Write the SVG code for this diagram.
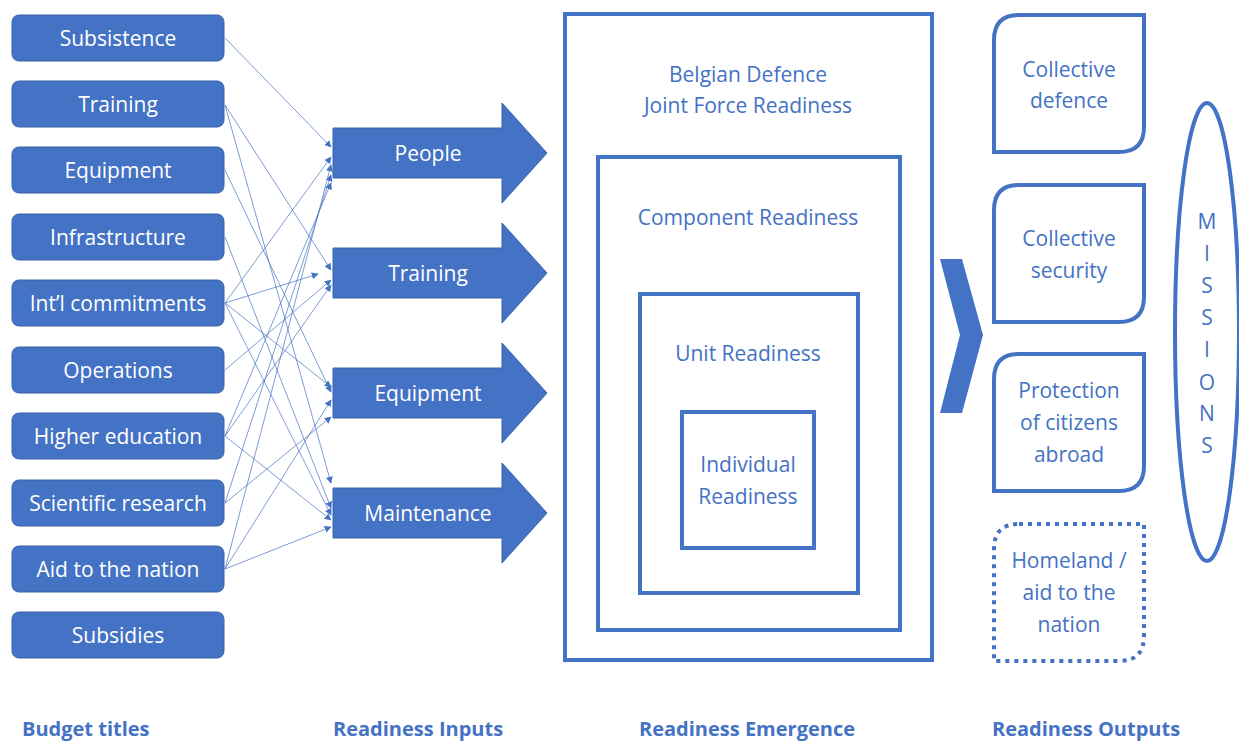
<svg xmlns="http://www.w3.org/2000/svg" width="1239" height="743" viewBox="0 0 1239 743">
  <style>
    .budget rect { fill: #4472C4; stroke: #3A62A8; stroke-width: 1; }
    .wt { fill: #FFFFFF; font-family: "Open Sans", "Liberation Sans", sans-serif; font-size: 21px; text-anchor: middle; }
    .bt { fill: #4472C4; font-family: "Open Sans", "Liberation Sans", sans-serif; font-size: 21px; text-anchor: middle; }
    .hd { fill: #4472C4; font-family: "Open Sans", "Liberation Sans", sans-serif; font-size: 20px; font-weight: bold; }
    .input use { fill: #4472C4; stroke: #3A62A8; stroke-width: 1; }
    .frame { fill: none; stroke: #4472C4; stroke-width: 4; }
    .out { fill: #FFFFFF; stroke: #4472C4; stroke-width: 4; }
    .dotted { stroke-dasharray: 4 5; }
    #connectors line { stroke: #4472C4; stroke-width: 1; stroke-opacity: 0.7; marker-end: url(#tri); }
  </style>
  <defs>
    <marker id="tri" viewBox="0 0 10 10" refX="9" refY="5" markerWidth="7" markerHeight="7" markerUnits="userSpaceOnUse" orient="auto">
      <path d="M0,0 L10,5 L0,10 z" fill="#4472C4"/>
    </marker>
    <path id="inArrow" d="M0,-25 H169 V-50 L214,0 L169,50 V25 H0 z"/>
    <path id="outBox" d="M25,0 H150 V112 Q150,137 125,137 H0 V25 Q0,0 25,0 z"/>
  </defs>

  <rect width="1239" height="743" fill="#FFFFFF"/>

  <!-- budget titles -->
  <g id="b-subsistence" class="budget"><rect x="12" y="15" width="212" height="46" rx="7"/><text class="wt" x="118" y="46">Subsistence</text></g>
  <g id="b-training" class="budget"><rect x="12" y="81" width="212" height="46" rx="7"/><text class="wt" x="118" y="112">Training</text></g>
  <g id="b-equipment" class="budget"><rect x="12" y="147" width="212" height="46" rx="7"/><text class="wt" x="118" y="178">Equipment</text></g>
  <g id="b-infrastructure" class="budget"><rect x="12" y="214" width="212" height="46" rx="7"/><text class="wt" x="118" y="245">Infrastructure</text></g>
  <g id="b-intl" class="budget"><rect x="12" y="280" width="212" height="46" rx="7"/><text class="wt" x="118" y="311">Int’l commitments</text></g>
  <g id="b-operations" class="budget"><rect x="12" y="347" width="212" height="46" rx="7"/><text class="wt" x="118" y="378">Operations</text></g>
  <g id="b-higher-ed" class="budget"><rect x="12" y="413" width="212" height="46" rx="7"/><text class="wt" x="118" y="444">Higher education</text></g>
  <g id="b-research" class="budget"><rect x="12" y="480" width="212" height="46" rx="7"/><text class="wt" x="118" y="511">Scientific research</text></g>
  <g id="b-aid" class="budget"><rect x="12" y="546" width="212" height="46" rx="7"/><text class="wt" x="118" y="577">Aid to the nation</text></g>
  <g id="b-subsidies" class="budget"><rect x="12" y="612" width="212" height="46" rx="7"/><text class="wt" x="118" y="643">Subsidies</text></g>

  <!-- readiness inputs -->
  <g id="in-people" class="input"><use href="#inArrow" x="333" y="153"/><text class="wt" x="428" y="161">People</text></g>
  <g id="in-training" class="input"><use href="#inArrow" x="333" y="273"/><text class="wt" x="428" y="281">Training</text></g>
  <g id="in-equipment" class="input"><use href="#inArrow" x="333" y="393"/><text class="wt" x="428" y="401">Equipment</text></g>
  <g id="in-maintenance" class="input"><use href="#inArrow" x="333" y="513"/><text class="wt" x="428" y="521">Maintenance</text></g>

  <!-- budget title to input links -->
  <g id="connectors">
    <line x1="225" y1="38" x2="331" y2="147"/>
    <line x1="225" y1="105" x2="331" y2="270"/>
    <line x1="225" y1="105" x2="331" y2="483"/>
    <line x1="225" y1="170" x2="331" y2="392"/>
    <line x1="225" y1="237" x2="331" y2="508"/>
    <line x1="225" y1="303" x2="331" y2="157"/>
    <line x1="225" y1="303" x2="318" y2="274"/>
    <line x1="225" y1="303" x2="331" y2="387"/>
    <line x1="225" y1="303" x2="331" y2="515"/>
    <line x1="225" y1="370" x2="331" y2="280"/>
    <line x1="225" y1="436" x2="331" y2="183"/>
    <line x1="225" y1="436" x2="331" y2="285"/>
    <line x1="225" y1="436" x2="331" y2="520"/>
    <line x1="225" y1="503" x2="331" y2="417"/>
    <line x1="225" y1="503" x2="331" y2="175"/>
    <line x1="225" y1="569" x2="331" y2="527"/>
    <line x1="225" y1="569" x2="331" y2="400"/>
    <line x1="225" y1="569" x2="331" y2="165"/>
  </g>

  <!-- nested readiness levels -->
  <g id="joint-force">
    <rect class="frame" x="565" y="14" width="367" height="646"/>
    <text class="bt" x="748" y="82">Belgian Defence</text>
    <text class="bt" x="748" y="113">Joint Force Readiness</text>
  </g>
  <g id="component">
    <rect class="frame" x="598" y="157" width="302" height="473"/>
    <text class="bt" x="748" y="225">Component Readiness</text>
  </g>
  <g id="unit">
    <rect class="frame" x="640" y="294" width="218" height="299"/>
    <text class="bt" x="748" y="361">Unit Readiness</text>
  </g>
  <g id="individual">
    <rect class="frame" x="682" y="412" width="132" height="136"/>
    <text class="bt" x="748" y="472">Individual</text>
    <text class="bt" x="748" y="504">Readiness</text>
  </g>

  <!-- chevron towards outputs -->
  <g id="chevron">
    <path d="M940,259 H962 L983,335 L962,413 H940 L960,335 z" fill="#4472C4"/>
  </g>

  <!-- readiness outputs -->
  <g id="out-defence">
    <use href="#outBox" class="out" x="994" y="15"/>
    <text class="bt" x="1069" y="77">Collective</text>
    <text class="bt" x="1069" y="108">defence</text>
  </g>
  <g id="out-security">
    <use href="#outBox" class="out" x="994" y="185"/>
    <text class="bt" x="1069" y="246">Collective</text>
    <text class="bt" x="1069" y="278">security</text>
  </g>
  <g id="out-protection">
    <use href="#outBox" class="out" x="994" y="354"/>
    <text class="bt" x="1069" y="398">Protection</text>
    <text class="bt" x="1069" y="430">of citizens</text>
    <text class="bt" x="1069" y="462">abroad</text>
  </g>
  <g id="out-homeland">
    <use href="#outBox" class="out dotted" x="994" y="524"/>
    <text class="bt" x="1069" y="568">Homeland /</text>
    <text class="bt" x="1069" y="600">aid to the</text>
    <text class="bt" x="1069" y="632">nation</text>
  </g>

  <!-- missions -->
  <g id="missions">
    <ellipse cx="1207" cy="332" rx="32" ry="229" fill="none" stroke="#4472C4" stroke-width="4"/>
    <text class="bt" x="1207" y="229">M</text>
    <text class="bt" x="1207" y="261">I</text>
    <text class="bt" x="1207" y="293">S</text>
    <text class="bt" x="1207" y="325">S</text>
    <text class="bt" x="1207" y="357">I</text>
    <text class="bt" x="1207" y="390">O</text>
    <text class="bt" x="1207" y="421">N</text>
    <text class="bt" x="1207" y="453">S</text>
  </g>

  <!-- column headings -->
  <g id="headings">
    <text class="hd" x="22" y="736">Budget titles</text>
    <text class="hd" x="333" y="736">Readiness Inputs</text>
    <text class="hd" x="639" y="736">Readiness Emergence</text>
    <text class="hd" x="992" y="736">Readiness Outputs</text>
  </g>
</svg>
